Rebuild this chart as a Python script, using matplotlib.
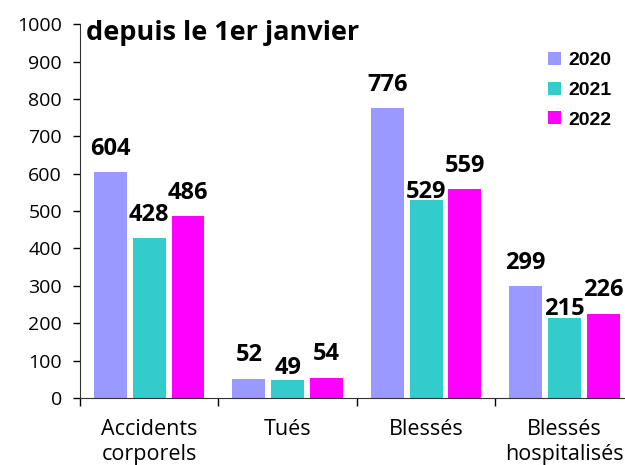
import matplotlib
matplotlib.use("Agg")
import matplotlib.pyplot as plt
import numpy as np

categories = ["Accidents\ncorporels", "Tués", "Blessés", "Blessés\nhospitalisés"]
years = ["2020", "2021", "2022"]
v2020 = [604, 52, 776, 299]
v2021 = [428, 49, 529, 215]
v2022 = [486, 54, 559, 226]
colors = ["#9999FF", "#33CCCC", "#FF00FF"]

# label offsets above bars (points), as placed in the original
offsets = [[12.5, 12.5, 12.5, 12.5],
           [12.5, 4.3, 1.5, 2.2],
           [12.5, 12.5, 12.5, 12.5]]

font = "Open Sans"
fig = plt.figure(figsize=(6.25, 4.65), dpi=100)
ax = fig.add_axes([0.128, 0.144, 0.886, 0.804])

x = np.arange(len(categories))
step = 0.28
width = 0.238
for i, (vals, c, yr) in enumerate(zip([v2020, v2021, v2022], colors, years)):
    pos = x + (i - 1) * step
    ax.bar(pos, vals, width=width, color=c, label=yr, zorder=2)
    for p, v, off in zip(pos, vals, offsets[i]):
        ax.annotate(str(v), (p, v), xytext=(0, off), textcoords="offset points",
                    ha="center", va="baseline", fontsize=17, fontweight="bold",
                    family=font)

ax.set_xlim(-0.5, 3.5)
ax.set_ylim(0, 1000)
ax.set_yticks(range(0, 1001, 100))
ax.tick_params(axis="y", labelsize=14, length=5, width=1, direction="out", pad=8)
for lab in ax.get_yticklabels():
    lab.set_family(font)

ax.set_xticks([-0.5, 0.5, 1.5, 2.5])
ax.set_xticklabels([])
ax.tick_params(axis="x", length=6, width=1, direction="out")
ax.set_xticks(x, minor=True)
ax.set_xticklabels(categories, minor=True, fontsize=15.5, family=font, linespacing=1.25)
ax.tick_params(axis="x", which="minor", length=0, pad=15)

for s in ["top", "right"]:
    ax.spines[s].set_visible(False)
ax.spines["left"].set_color("#333333")
ax.spines["bottom"].set_color("#333333")

ax.text(-0.457, 957, "depuis le 1er janvier",
        fontsize=19.5, fontweight="bold", family=font, va="baseline", ha="left")

leg = ax.legend(loc="upper right", bbox_to_anchor=(0.992, 0.973), frameon=False,
                prop={"family": ["Liberation Sans", "DejaVu Sans"], "weight": "bold", "size": 14},
                handlelength=0.65, handleheight=0.65, handletextpad=0.4,
                labelspacing=0.64)

fig.savefig("out.png", dpi=100)
